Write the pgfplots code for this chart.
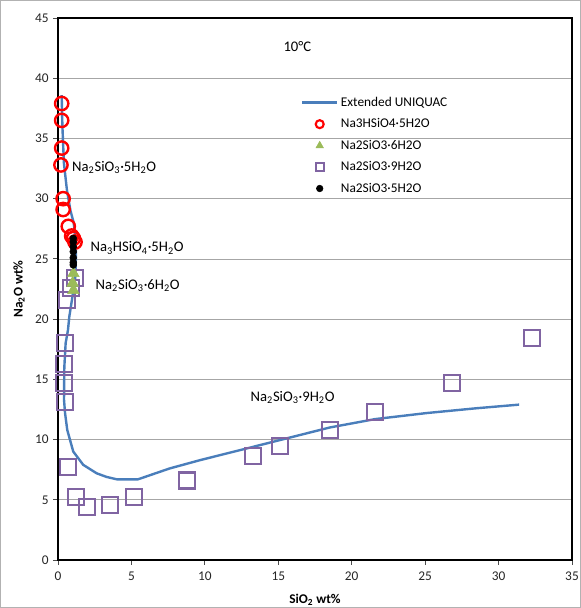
\documentclass[border=0pt]{standalone}
\usepackage{pgfplots}
\pgfplotsset{compat=1.18}
\usepackage{fontspec}
\setmainfont{Carlito}
\definecolor{exblue}{HTML}{4A7EBB}
\definecolor{exgreen}{HTML}{9BBB59}
\definecolor{expurple}{HTML}{8064A2}
\pgfplotsset{
  mylegline/.style={legend image code/.code={\draw[##1] (0pt,0pt) -- (26pt,0pt);}},
  mylegmark/.style={legend image code/.code={\draw[##1] plot coordinates {(13pt,0pt)};}},
}
\begin{document}
\begin{tikzpicture}
\begin{axis}[
  scale only axis, width=385.5pt, height=406.5pt,
  xmin=0, xmax=35, ymin=0, ymax=45,
  xtick={0,5,...,35}, ytick={0,5,...,45},
  tick align=outside, major tick length=3.5pt,
  xtick pos=bottom, ytick pos=left,
  ymajorgrids, grid style={gray!70, line width=0.5pt},
  axis line style={black, line width=1pt},
  tick style={black!70, line width=0.6pt},
  /pgf/number format/assume math mode=true,
  ticklabel style={font=\fontsize{10}{12}\selectfont, text=black!85},
  xticklabel style={yshift=-2pt},
  xlabel={\textbf{SiO\textsubscript{2} wt\%}},
  ylabel={\textbf{Na\textsubscript{2}O wt\%}},
  label style={font=\fontsize{10}{12}\selectfont},
  xlabel style={yshift=-3pt},
  ylabel style={yshift=1pt},
  legend style={draw=none, fill=none, at={(0.47,0.862)}, anchor=north west,
     font=\fontsize{10}{12}\selectfont, row sep=3.7pt, inner sep=1pt},
  legend cell align=left,
]
% Extended UNIQUAC
\addplot[exblue, line width=1.8pt, forget plot] coordinates {
(0.25,38.6) (0.3,36) (0.4,33) (0.61,30.7) (0.85,29) (1.07,28) (1.2,26.5) (1.22,25.2) (1.18,23.5) (0.95,21.6)
(0.77,20.2) (0.68,19.1) (0.52,18.0) (0.43,16.0) (0.41,13.3) (0.48,12.2) (0.63,10.8) (1.04,9.0) (1.72,7.9) (2.63,7.2)
(3.3,6.9) (4.0,6.7) (5.45,6.7) (7.6,7.6) (9.7,8.3) (13.3,9.4) (18.5,11.0) (21.6,11.7) (25.1,12.2) (28.5,12.6) (31.4,12.9)
};
% Na3HSiO4.5H2O
\addplot[only marks, mark=o, mark size=5pt, red, line width=1.8pt, forget plot] coordinates {
(0.25,37.9) (0.25,36.5) (0.25,34.2) (0.2,32.8) (0.35,30.0) (0.35,29.1) (0.7,27.7) (0.93,26.9) (1.05,26.7) (1.16,26.4)
};
% Na2SiO3.9H2O
\addplot[only marks, mark=square, mark size=6pt, expurple, line width=1.6pt, forget plot] coordinates {
(1.16,23.4) (0.86,22.6) (0.59,21.6) (0.48,18.0) (0.41,16.3) (0.41,14.7) (0.48,13.1) (0.7,7.75) (1.22,5.26)
(1.95,4.4) (3.54,4.57) (5.17,5.26) (8.8,6.6) (13.3,8.6) (15.1,9.5) (18.5,10.8) (21.6,12.3) (26.8,14.7) (32.3,18.4)
};
% Na2SiO3.6H2O
\addplot[only marks, mark=triangle*, mark size=5pt, exgreen, forget plot] coordinates {
(1.05,23.8) (1.0,23.0) (1.05,22.4)
};
% Na2SiO3.5H2O
\addplot[only marks, mark=*, mark size=2.6pt, black, forget plot] coordinates {
(1.04,26.7) (1.04,26.4) (1.04,26.0) (1.04,25.6) (1.04,25.1) (1.04,24.7) (1.04,24.5)
};
% legend
\addlegendimage{exblue, line width=1.8pt, mylegline}
\addlegendentry{Extended UNIQUAC}
\addlegendimage{only marks, mark=o, mark size=3pt, red, line width=1.6pt, mylegmark}
\addlegendentry{Na3HSiO4·5H2O}
\addlegendimage{only marks, mark=triangle*, mark size=3.2pt, exgreen, mylegmark}
\addlegendentry{Na2SiO3·6H2O}
\addlegendimage{only marks, mark=square, mark size=3pt, expurple, line width=1.4pt, mylegmark}
\addlegendentry{Na2SiO3·9H2O}
\addlegendimage{only marks, mark=*, mark size=2.5pt, black, mylegmark}
\addlegendentry{Na2SiO3·5H2O}
% annotations
\node[anchor=center, font=\fontsize{11}{13}\selectfont] at (axis cs:16.3,42.6) {10°C};
\node[anchor=west, inner sep=0pt, font=\fontsize{11}{13}\selectfont] at (axis cs:0.95,32.6) {Na\textsubscript{2}SiO\textsubscript{3}·5H\textsubscript{2}O};
\node[anchor=west, inner sep=0pt, font=\fontsize{11}{13}\selectfont] at (axis cs:2.2,25.9) {Na\textsubscript{3}HSiO\textsubscript{4}·5H\textsubscript{2}O};
\node[anchor=west, inner sep=0pt, font=\fontsize{11}{13}\selectfont] at (axis cs:2.55,22.8) {Na\textsubscript{2}SiO\textsubscript{3}·6H\textsubscript{2}O};
\node[anchor=west, inner sep=0pt, font=\fontsize{11}{13}\selectfont] at (axis cs:13.1,13.5) {Na\textsubscript{2}SiO\textsubscript{3}·9H\textsubscript{2}O};
\end{axis}
\pgfresetboundingbox
\path[use as bounding box] (-43.5pt,-36pt) rectangle (392.25pt,420pt);
\draw[gray!60, line width=0.5pt] (-43.2pt,-35.7pt) rectangle (392pt,419.7pt);
\end{tikzpicture}
\end{document}
